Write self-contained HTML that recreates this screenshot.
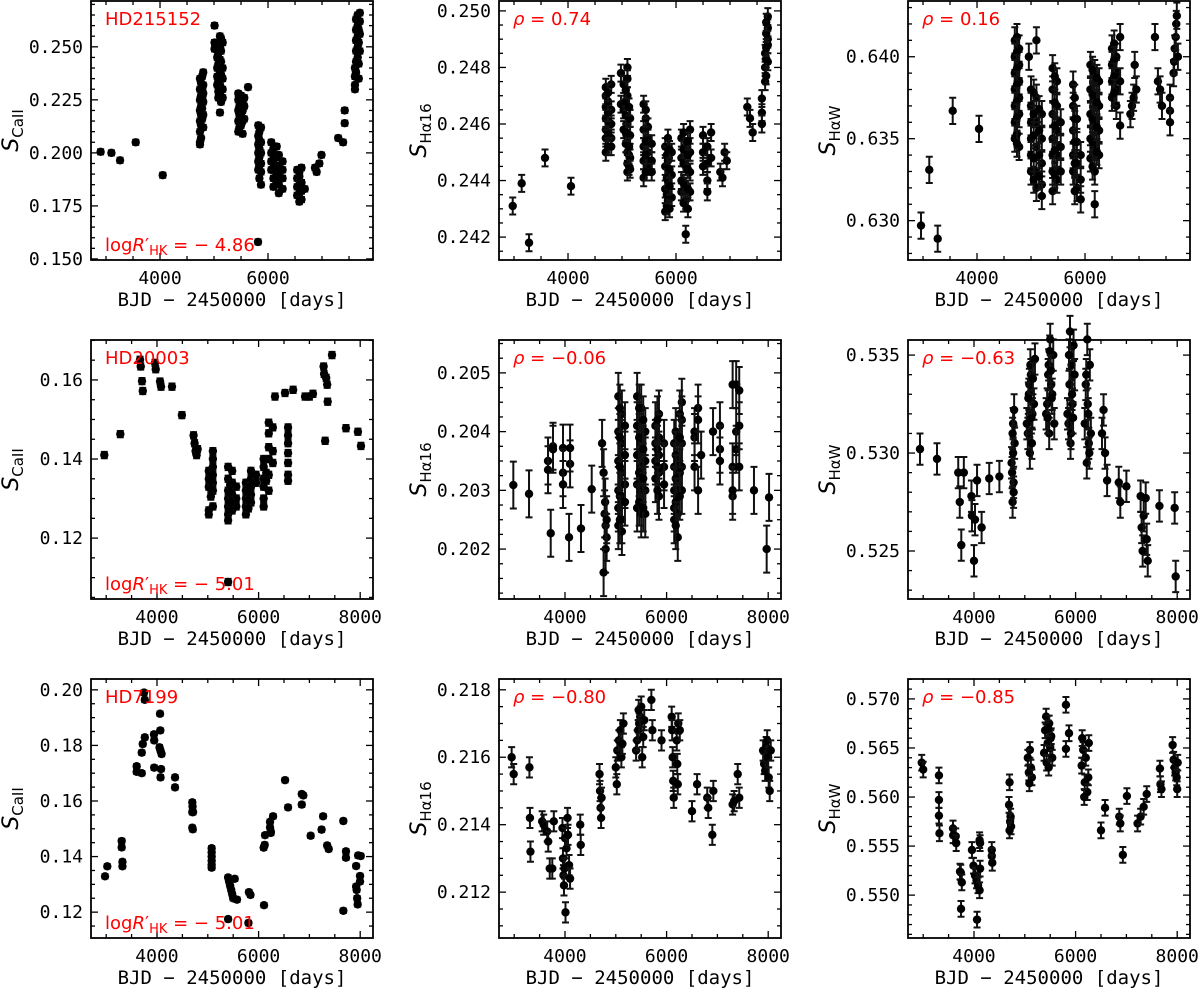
<!DOCTYPE html>
<html><head><meta charset="utf-8">
<style>
html,body{margin:0;padding:0;background:#fff;}
svg{display:block;}
.tk{font-family:"DejaVu Sans Mono","Liberation Mono",monospace;font-size:18px;fill:#000;}
.xl{font-family:"DejaVu Sans Mono","Liberation Mono",monospace;font-size:19px;fill:#000;}
.yl{font-family:"DejaVu Sans","Liberation Sans",sans-serif;font-size:22px;fill:#000;}
.ann{font-family:"DejaVu Sans","Liberation Sans",sans-serif;font-size:18px;fill:#ff0000;}
</style></head>
<body>
<svg id="fig" width="1200" height="991" viewBox="0 0 1200 991" xmlns="http://www.w3.org/2000/svg"></svg>
<script>
// ---------- data ----------
const p1Days=[2900,3100,3260,3550,4050, 4740,4740,4740,4740,4740,4740,4740,4740, 4800,4800,4800,4800,4800,4800, 5010,5010,5010, 5060,5060,5060,5060, 5110,5110,5110,5110,5110,5110,5110, 5160,5160,5160,5160,5160, 5450,5450,5450,5450,5450, 5500,5500,5500,5500, 5560,5560,5560, 5630, 5820,5820,5820,5820,5820,5820, 5870,5870,5870,5870,5870,5870, 6060,6060,6060,6060, 6160,6160,6160,6160,6160, 6270,6270,6270,6270, 6540,6540,6540,6540, 6620,6620,6620,6620, 6680, 6870,6900,6950,6990, 7300,7390,7420,7420, 7610,7610,7610,7610, 7660,7660,7660,7660,7660, 7700,7700,7700,7700, 5815,
 4760,4760,4760,4760,4760,4760, 4780,4780,4780,4780,4780, 5080,5080,5080,5080,5080, 5130,5130,5130,5130,5130, 5470,5470,5470,5470, 5530,5530,5530,5530, 5840,5840,5840,5840,5840,5840, 6100,6100,6100,6100,6100, 6200,6200,6200,6200,6200, 6580,6580,6580,6580,6580, 7630,7630,7630,7630,7630,7630, 7680,7680,7680,7680];
const p1Vals=[0.2005,0.200,0.1965,0.205,0.1895, 0.204,0.205,0.210,0.215,0.220,0.225,0.230,0.235, 0.212,0.218,0.224,0.228,0.232,0.238, 0.260,0.252,0.249, 0.245,0.240,0.236,0.232, 0.228,0.232,0.238,0.244,0.250,0.255,0.219, 0.226,0.230,0.235,0.240,0.252, 0.210,0.215,0.220,0.225,0.228, 0.213,0.218,0.223,0.227, 0.216,0.222,0.226, 0.231, 0.213,0.208,0.204,0.200,0.196,0.192, 0.212,0.205,0.200,0.195,0.191,0.185, 0.205,0.200,0.196,0.192, 0.203,0.198,0.194,0.190,0.186, 0.196,0.192,0.188,0.183, 0.192,0.188,0.184,0.180, 0.193,0.186,0.182,0.178, 0.183, 0.193,0.191,0.195,0.199, 0.207,0.205,0.220,0.214, 0.230,0.232,0.236,0.240, 0.245,0.250,0.255,0.260,0.265, 0.248,0.256,0.262,0.266, 0.158,
 0.207,0.213,0.218,0.222,0.227,0.233, 0.216,0.221,0.226,0.230,0.236, 0.226,0.229,0.234,0.242,0.247, 0.224,0.237,0.243,0.248,0.254, 0.212,0.218,0.222,0.226, 0.209,0.215,0.220,0.224, 0.194,0.198,0.202,0.206,0.210,0.188, 0.184,0.188,0.193,0.197,0.202, 0.181,0.185,0.189,0.193,0.199, 0.177,0.181,0.185,0.189,0.191, 0.238,0.243,0.248,0.253,0.258,0.263, 0.235,0.242,0.252,0.258];
const p1Err=0.0012;

const p2Days=[2976,3142,3278,3574,4055, 4700,4700,4700,4700,4700,4700,4700, 4800,4800,4800,4800,4800, 4980,4980, 5030,5030,5030, 5100,5100,5100,5100,5100,5100,5100,5100, 5150,5150,5150,5150, 5400,5400,5400,5400,5400, 5480,5480,5480,5480, 5550,5550,5550, 5800,5800,5800,5800, 5850,5850,5850,5850, 5920,5920,5920, 6100,6100,6100,6100, 6180,6180,6180,6180,6180, 6260,6260,6260,6260, 6500,6500,6500, 6580,6580,6580,6580, 6650,6650, 6820,6860,6900,6940, 7320,7370,7420, 7590,7590,7590, 7650,7650,7650, 7700,7700,7700,7700,7700,
 4740,4740,4740,4740,4740,4740, 5070,5070,5070,5070,5070, 5130,5130,5130,5130, 5440,5440,5440,5440,5440, 5830,5830,5830,5830, 5880,5880,5880,5880, 6140,6140,6140,6140,6140, 6220,6220,6220,6220,6220, 7670,7670,7670,7670,7670];
const p2Vals=[0.2431,0.2439,0.2418,0.2448,0.2438, 0.2458,0.2462,0.2466,0.2470,0.2455,0.2450,0.2473, 0.2474,0.2460,0.2455,0.2465,0.2452, 0.2478,0.2467, 0.2474,0.2465,0.2458, 0.2480,0.2476,0.2470,0.2460,0.2455,0.2450,0.2446,0.2443, 0.2462,0.2456,0.2448,0.2444, 0.2467,0.2458,0.2452,0.2447,0.2441, 0.2455,0.2450,0.2445,0.2459, 0.2453,0.2447,0.2443, 0.2429,0.2437,0.2445,0.2452, 0.2440,0.2447,0.2433,0.2455, 0.2442,0.2434,0.2450, 0.2448,0.2440,0.2436,0.2455, 0.2452,0.2445,0.2438,0.2433,0.2421, 0.2450,0.2443,0.2436,0.2458, 0.2456,0.2450,0.2445, 0.2452,0.2446,0.2440,0.2436, 0.2457,0.2448, 0.2443,0.2441,0.2450,0.2447, 0.2466,0.2462,0.2457, 0.2469,0.2464,0.2460, 0.2475,0.2480,0.2485, 0.2490,0.2494,0.2498,0.2488,0.2482,
 0.2452,0.2457,0.2461,0.2464,0.2468,0.2471, 0.2453,0.2457,0.2463,0.2468,0.2472, 0.2445,0.2449,0.2452,0.2466, 0.2443,0.2449,0.2454,0.2462,0.2465, 0.2431,0.2435,0.2441,0.2449, 0.2430,0.2438,0.2444,0.2451, 0.2432,0.2439,0.2446,0.2451,0.2457, 0.2430,0.2437,0.2444,0.2449,0.2454, 0.2477,0.2483,0.2487,0.2492,0.2496];
const p2Err=0.0003;

const p3Days=[2963,3116,3272,3550,4037, 4700,4700,4700,4700,4700,4700,4700, 4780,4780,4780,4780,4780,4780, 4960, 5000,5000,5000,5000,5000,5000, 5100,5100,5100,5100,5100,5100, 5200,5200,5200,5200,5200, 5400,5400,5400,5400,5400,5400,5400, 5480,5480,5480,5480,5480, 5550,5550,5550, 5780,5780,5780,5780,5780, 5850,5850,5850,5850, 5920,5920,5920, 6100,6100,6100,6100,6100, 6180,6180,6180,6180,6180,6180, 6260,6260,6260,6260, 6500,6500,6500,6500, 6580,6580,6580,6580, 6650,6650,6650, 6840,6870,6900,6920,6950, 7295, 7350,7390,7425, 7574,7574,7574, 7640,7650,7660,7680,7690,7700,7720,
 4740,4740,4740,4740,4740,4740,4740,4740, 5050,5050,5050,5050,5050, 5150,5150,5150,5150, 5440,5440,5440,5440,5440, 5810,5810,5810,5810,5810, 6140,6140,6140,6140,6140, 6220,6220,6220,6220, 6540,6540,6540,6540];
const p3Vals=[0.6297,0.6331,0.6289,0.6367,0.6356, 0.6410,0.6400,0.6390,0.6380,0.6370,0.6360,0.6350, 0.6405,0.6395,0.6385,0.6375,0.6365,0.6345, 0.6400, 0.6380,0.6370,0.6360,0.6350,0.6340,0.6330, 0.6375,0.6360,0.6345,0.6330,0.6320,0.6410, 0.6365,0.6350,0.6335,0.6322,0.6315, 0.6393,0.6380,0.6365,0.6350,0.6340,0.6330,0.6318, 0.6385,0.6370,0.6355,0.6340,0.6325, 0.6360,0.6345,0.6330, 0.6383,0.6370,0.6355,0.6340,0.6330, 0.6362,0.6348,0.6335,0.6320, 0.6340,0.6325,0.6313, 0.6395,0.6380,0.6365,0.6350,0.6338, 0.6390,0.6375,0.6360,0.6345,0.6330,0.6310, 0.6385,0.6370,0.6355,0.6340, 0.6405,0.6395,0.6385,0.6375, 0.6400,0.6390,0.6380,0.6370, 0.6412,0.6385,0.6358, 0.6365,0.6370,0.6375,0.6395,0.6380, 0.6412, 0.6385,0.6380,0.6370, 0.6375,0.6367,0.6360, 0.6390,0.6397,0.6405,0.6412,0.6420,0.6425,0.6400,
 0.6412,0.6403,0.6393,0.6383,0.6373,0.6363,0.6353,0.6347, 0.6378,0.6365,0.6352,0.6338,0.6325, 0.6368,0.6355,0.6340,0.6327, 0.6388,0.6372,0.6358,0.6343,0.6328, 0.6375,0.6362,0.6348,0.6335,0.6318, 0.6392,0.6377,0.6362,0.6348,0.6333, 0.6387,0.6372,0.6357,0.6342, 0.6408,0.6398,0.6388,0.6378];
const p3Err=0.0008;

const p4Days=[2963,3278,3666,3680,3705,3720,3961,3975,4060,4080,4295,4490, 4720,4740,4760,4780,4800, 5020,5020,5020,5020,5020, 5100,5100,5100,5100,5100,5100,5100, 5400,5400,5400,5400,5400,5400,5400, 5480,5480,5480,5480,5480, 5560,5560,5560, 5400, 5750,5750,5750,5750,5750, 5850,5850,5850,5850,5850, 5950,5950, 6100,6100,6100,6100,6100,6100, 6200,6200,6200,6200,6200,6200, 6280,6280,6280, 6323, 6580,6580,6580,6580,6580,6580,6580, 6520,6680, 6915,7000,7070, 7280,7290,7330,7350,7360,7445,7310, 7720,7955,8015,
 5060,5060,5060, 5440,5440,5440, 5800,5800,5800, 6150,6150];
const p4Vals=[0.1410,0.1463,0.1651,0.1634,0.1597,0.1572,0.1643,0.1627,0.1596,0.1583,0.1583,0.1511, 0.1460,0.1440,0.1420,0.1410,0.1425, 0.1270,0.1260,0.1330,0.1350,0.1370, 0.1400,0.1380,0.1360,0.1340,0.1320,0.1280,0.1420, 0.1380,0.1350,0.1320,0.1300,0.1280,0.1260,0.1245, 0.1370,0.1340,0.1310,0.1290,0.1270, 0.1330,0.1300,0.1280, 0.1089, 0.1260,0.1280,0.1300,0.1320,0.1340, 0.1290,0.1310,0.1330,0.1350,0.1370, 0.1340,0.1360, 0.1280,0.1300,0.1330,0.1350,0.1380,0.1400, 0.1320,0.1360,0.1400,0.1430,0.1465,0.1492, 0.1480,0.1420,0.1390, 0.1558, 0.1480,0.1460,0.1440,0.1415,0.1390,0.1360,0.1345, 0.1567,0.1575, 0.1558,0.1558,0.1565, 0.1634,0.1615,0.1605,0.1588,0.1545,0.1663,0.1446, 0.1478,0.1469,0.1433,
 0.1345,0.1325,0.1305, 0.1335,0.1315,0.1290, 0.1275,0.1295,0.1315, 0.1345,0.1365];
const p4Err=0.0008;

const p5Days=[2983,3292,3719,3666,3666,3764,3764,3961,3961,3961,4080,4100,4100,4315,4526, 4730,4760,4780,4800,4820,4800,4760,4790,4820, 5050,5050,5050,5050,5050,5050, 5120,5120,5120,5120,5120,5120, 5180,5180,5180,5180, 5420,5420,5420,5420,5420, 5500,5500,5500,5500,5500, 5580,5580,5580,5580, 5780,5780,5780,5780, 5850,5850,5850,5850,5850, 5950,5950,5950, 6150,6150,6150,6150,6150, 6220,6220,6220,6220, 6300,6300,6300,6300,6300, 6550,6550,6550, 6620,6620,6620, 6680, 6914, 7050,7050,7050, 7300,7300,7300,7300, 7370,7370,7370, 7430,7430,7430, 7720,7970,8017,
 5080,5080,5080,5080,5080, 5460,5460,5460,5460, 5540,5540,5540,5540, 5820,5820,5820,5820, 6180,6180,6180,6180,6180, 6260,6260,6260,6260];
const p5Vals=[0.20309,0.20294,0.20227,0.2035,0.20335,0.20375,0.2037,0.20372,0.2033,0.2031,0.2022,0.20345,0.20372,0.20235,0.20302, 0.2038,0.2033,0.2026,0.2024,0.2022,0.2020,0.2016,0.2028,0.2025, 0.2046,0.2040,0.2035,0.2030,0.2027,0.2024, 0.2043,0.2038,0.2033,0.2029,0.2025,0.2023, 0.2041,0.2036,0.2031,0.2028, 0.2046,0.2041,0.2036,0.2031,0.2027, 0.2044,0.2038,0.2034,0.2030,0.2026, 0.2040,0.2035,0.2030,0.2026, 0.2041,0.2038,0.2035,0.2032, 0.2043,0.2039,0.2036,0.2033,0.2029, 0.2038,0.2034,0.2031, 0.2038,0.2034,0.2030,0.2027,0.2025, 0.2035,0.2030,0.2026,0.2022, 0.2045,0.2042,0.2038,0.2034,0.2030, 0.2039,0.2034,0.2040, 0.2044,0.2042,0.2030, 0.2036, 0.2040, 0.2041,0.2037,0.2035, 0.2048,0.2034,0.2029,0.2030, 0.2048,0.2040,0.2037, 0.2047,0.2041,0.2034, 0.2030,0.2020,0.20288,
 0.2044,0.2039,0.2034,0.2029,0.2025, 0.2044,0.2039,0.2033,0.2028, 0.2042,0.2037,0.2032,0.2027, 0.2042,0.2037,0.2034,0.2030, 0.2040,0.2036,0.2032,0.2028,0.2024, 0.2043,0.2039,0.2033,0.2029];
const p5Err=0.0004;

const p6Days=[2937,3272,3690,3720,3750,3800,3950,3960,4000,4020,4060,4150,4300,4500, 4760,4780,4740,4800,4770,4790,4750, 5100,5060,5150,5080,5120,5200,5040,5180,5090,5140, 5480,5420,5540,5460,5560,5500,5440,5520,5470,5580, 5900,5860,5940,5880,5920,5960,5890,5840,5980, 6220,6260,6180,6240,6200,6280,6230,6300, 6520,6550,6580,6620, 6850,6880,7000, 7280,7300,7320,7340, 7380,7400,7420, 7650,7950,7970,
 4770,4760,4780, 5110,5130,5070,5160, 5490,5450,5530,5510, 5910,5870,5930,5950, 6250,6210,6270];
const p6Vals=[0.5302,0.5297,0.5290,0.5275,0.5253,0.5290,0.5278,0.5268,0.5245,0.5266,0.5286,0.5262,0.5287,0.5288, 0.5275,0.5285,0.5295,0.5305,0.5315,0.5322,0.5290, 0.5300,0.5310,0.5320,0.5330,0.5340,0.5348,0.5315,0.5325,0.5335,0.5305, 0.5310,0.5320,0.5330,0.5340,0.5350,0.5358,0.5325,0.5335,0.5345,0.5315, 0.5305,0.5315,0.5325,0.5335,0.5345,0.5355,0.5362,0.5320,0.5340, 0.5295,0.5305,0.5315,0.5325,0.5335,0.5345,0.5358,0.5310, 0.5310,0.5322,0.5300,0.5286, 0.5285,0.5275,0.5283, 0.5278,0.5262,0.5250,0.5268, 0.5277,0.5256,0.5245, 0.5273,0.5272,0.5237,
 0.5300,0.5310,0.5280, 0.5345,0.5318,0.5328,0.5338, 0.5352,0.5318,0.5328,0.5342, 0.5310,0.5350,0.5330,0.5318, 0.5320,0.5340,0.5300];
const p6Err=0.0008;

const p7Days=[2977,3022,3305,3305,3320,3320,3600,3600,3700,3700,3720,3745,3760,3760,3941,3945,3945,4060,4065,4050,4070,4070,4080,4090,4355,4355,4695,4700,4695,4710,4695,4705, 5076,5076,5076,5076,5076,5076, 5400,5420,5440,5460,5480,5500,5530,5400, 5575,5810,5840,5800, 6107,6100,6120,6127,6225,6225,6240,6240,6285, 6521,6580,6850,6850,6880,7025,7240,7270,7350,7380,7668,7668,7720,7720, 7920,7920,7930,7940,7950,7960,7997,7997,8010];
const p7Vals=[0.1329,0.1365,0.1456,0.1433,0.1381,0.1365,0.1725,0.1705,0.1774,0.1700,0.1805,0.1990,0.1964,0.1829,0.1840,0.1818,0.1720,0.1914,0.1854,0.1793,0.1781,0.1685,0.1715,0.1769,0.1685,0.1649,0.1595,0.1580,0.1560,0.1560,0.1504,0.1498, 0.1430,0.1415,0.1400,0.1385,0.1370,0.1360, 0.1325,0.1310,0.1295,0.1280,0.1265,0.1250,0.1320,0.1175, 0.1245,0.1272,0.1262,0.1161, 0.1225,0.1432,0.1442,0.1477,0.1525,0.1505,0.1490,0.1485,0.1545, 0.1675,0.1577,0.1587,0.1625,0.1620,0.1475,0.1497,0.1545,0.1440,0.1427,0.1528,0.1205,0.1419,0.1396, 0.1366,0.1292,0.1280,0.1250,0.1228,0.1404,0.1330,0.1310,0.1402];
const p7Err=0.0008;

const p8Days=[2950,2990,3300,3310,3320, 3550,3580,3650,3670,3700,3750,3780, 3950,3960,3970,3980,3990,4000,4010,4030,4050,4060,4080,4100,4300,4310, 4680,4690,4700,4710,4720, 5000,5030,5060,5090,5110,5130,5150,5020, 5400,5420,5440,5460,5480,5500,5520,5540,5560,5450, 5700,5720,5900, 6100,6110,6120,6130,6140, 6200,6210,6220,6230,6260, 6500,6600,6800,6820,6900,6920,7300,7330,7400,7430, 7900,7920,7940,7960,7980,8000,8010,8030,8050];
const p8Vals=[0.2160,0.2155,0.2157,0.2142,0.2132, 0.2141,0.2140,0.2138,0.2135,0.2127,0.2127,0.2141, 0.2139,0.2130,0.2125,0.2122,0.2127,0.2136,0.2114,0.2133,0.2142,0.2137,0.2128,0.2124,0.2140,0.2134, 0.2155,0.2150,0.2145,0.2142,0.2148, 0.2157,0.2162,0.2165,0.2168,0.2160,0.2164,0.2170,0.2152, 0.2162,0.2165,0.2168,0.2170,0.2172,0.2175,0.2160,0.2166,0.2171,0.2174, 0.2177,0.2168,0.2165, 0.2172,0.2168,0.2160,0.2153,0.2148, 0.2165,0.2158,0.2152,0.2170,0.2168, 0.2144,0.2152,0.2148,0.2145,0.2137,0.2150,0.2146,0.2147,0.2155,0.2148, 0.2162,0.2158,0.2156,0.2163,0.2165,0.2160,0.2154,0.2150,0.2162];
const p8Err=0.0003;

const p9Days=[2971,3000,3310,3310,3310,3320,3587,3590,3640,3650,3725,3740,3760,3745, 3960,3990,4020,4050,4080,4110,4120,4060,4120,4110, 4350,4350,4360, 4700,4690,4720,4710,4730,4700, 5100,5060,5120,5080,5140,5090, 5420,5480,5400,5520,5450,5500,5380,5540,5430,5470,5510,5460, 5810,5810,5870, 6150,6200,6120,6250,6180,6230,6170,6130,6260, 6500,6580,6860,6880,6930,7010, 7220,7280,7340,7400, 7660,7670,7690, 7910,7930,7950,7970,7990,8000,8010];
const p9Vals=[0.5635,0.5628,0.5622,0.5597,0.5581,0.5563,0.5568,0.5561,0.5560,0.5553,0.5524,0.5523,0.5513,0.5486, 0.5546,0.5530,0.5520,0.5515,0.5510,0.5505,0.5527,0.5475,0.5553,0.5556, 0.5546,0.5540,0.5533, 0.5615,0.5592,0.5580,0.5575,0.5570,0.5566, 0.5648,0.5640,0.5630,0.5625,0.5620,0.5614, 0.5682,0.5675,0.5668,0.5662,0.5655,0.5650,0.5645,0.5640,0.5635,0.5630,0.5660,0.5670, 0.5694,0.5649,0.5665, 0.5648,0.5640,0.5632,0.5620,0.5615,0.5605,0.5600,0.5660,0.5655, 0.5566,0.5589,0.5580,0.5573,0.5541,0.5601, 0.5573,0.5580,0.5590,0.5603, 0.5629,0.5613,0.5608, 0.5653,0.5638,0.5630,0.5625,0.5620,0.5608,0.5635];
const p9Err=0.0008;

const xTicksRow1=[4000,6000];
const xTicksRow23=[4000,6000,8000];
const yTicks1=["0.150","0.175","0.200","0.225","0.250"];
const yTicks2=["0.242","0.244","0.246","0.248","0.250"];
const yTicks3=["0.630","0.635","0.640"];
const yTicks4=["0.12","0.14","0.16"];
const yTicks5=["0.202","0.203","0.204","0.205"];
const yTicks6=["0.525","0.530","0.535"];
const yTicks7=["0.12","0.14","0.16","0.18","0.20"];
const yTicks8=["0.212","0.214","0.216","0.218"];
const yTicks9=["0.550","0.555","0.560","0.565","0.570"];

// ---------- drawing ----------
const NS="http://www.w3.org/2000/svg";
const svg=document.getElementById('fig');
function mk(tag,attrs,parent){const e=document.createElementNS(NS,tag);for(const k in attrs)e.setAttribute(k,attrs[k]);(parent||svg).appendChild(e);return e;}

const W=282,H=259;
const panels=[
 {L:91,T:1,xd:[2722,7944],yd:[0.1495,0.2716],days:p1Days,vals:p1Vals,err:p1Err,xt:xTicksRow1,yt:yTicks1,ym:0.005,lab:"CaII",name:"hd215152-scaii"},
 {L:499,T:1,xd:[2722,7944],yd:[0.24119,0.25035],days:p2Days,vals:p2Vals,err:p2Err,xt:xTicksRow1,yt:yTicks2,ym:0.0005,lab:"Hα16",name:"hd215152-sha16"},
 {L:908,T:1,xd:[2722,7944],yd:[0.6276,0.6434],days:p3Days,vals:p3Vals,err:p3Err,xt:xTicksRow1,yt:yTicks3,ym:0.001,lab:"HαW",name:"hd215152-shaw"},
 {L:91,T:340,xd:[2701,8252],yd:[0.1046,0.1701],days:p4Days,vals:p4Vals,err:p4Err,xt:xTicksRow23,yt:yTicks4,ym:0.005,lab:"CaII",name:"hd20003-scaii"},
 {L:499,T:340,xd:[2701,8252],yd:[0.20115,0.20556],days:p5Days,vals:p5Vals,err:p5Err,xt:xTicksRow23,yt:yTicks5,ym:0.00025,lab:"Hα16",name:"hd20003-sha16"},
 {L:908,T:340,xd:[2701,8252],yd:[0.52255,0.53577],days:p6Days,vals:p6Vals,err:p6Err,xt:xTicksRow23,yt:yTicks6,ym:0.001,lab:"HαW",name:"hd20003-shaw"},
 {L:91,T:679,xd:[2701,8252],yd:[0.1107,0.2039],days:p7Days,vals:p7Vals,err:p7Err,xt:xTicksRow23,yt:yTicks7,ym:0.005,lab:"CaII",name:"hd7199-scaii"},
 {L:499,T:679,xd:[2701,8252],yd:[0.21064,0.21832],days:p8Days,vals:p8Vals,err:p8Err,xt:xTicksRow23,yt:yTicks8,ym:0.0005,lab:"Hα16",name:"hd7199-sha16"},
 {L:908,T:679,xd:[2701,8252],yd:[0.54563,0.57203],days:p9Days,vals:p9Vals,err:p9Err,xt:xTicksRow23,yt:yTicks9,ym:0.001,lab:"HαW",name:"hd7199-shaw"}
];
const annots=[
 ["HD215152","logR","−4.86"],["ρ","0.74"],["ρ","0.16"],
 ["HD20003","logR","−5.01"],["ρ","−0.06"],["ρ","−0.63"],
 ["HD7199","logR","−5.01"],["ρ","−0.80"],["ρ","−0.85"]
];

panels.forEach((p,i)=>{
  const g=mk('g',{});
  
  
  const sx=d=>p.L+(d-p.xd[0])/(p.xd[1]-p.xd[0])*W;
  const sy=v=>p.T+H-(v-p.yd[0])/(p.yd[1]-p.yd[0])*H;
  const B=p.T+H,R=p.L+W;
  const tg=mk('g',{stroke:'#000','stroke-width':1.3},g);
  
  
  for(let d=Math.ceil(p.xd[0]/500)*500; d<=p.xd[1]; d+=500){
    const x=sx(d), major=d%2000===0, len=major?7:4;
    mk('line',{x1:x,y1:B,x2:x,y2:B-len},tg);
    mk('line',{x1:x,y1:p.T,x2:x,y2:p.T+len},tg);
  }
  const majY=p.yt.map(Number);
  const step=majY[1]-majY[0];
  const nMin=Math.round(step/p.ym);
  for(let k=Math.floor((p.yd[0]-majY[0])/p.ym); ; k++){
    const v=majY[0]+k*p.ym; if(v>p.yd[1]) break; if(v<p.yd[0]) continue;
    const major=((k%nMin)+nMin)%nMin===0, len=major?7:4, y=sy(v);
    mk('line',{x1:p.L,y1:y,x2:p.L+len,y2:y},tg);
    mk('line',{x1:R,y1:y,x2:R-len,y2:y},tg);
  }
  p.xt.forEach(d=>{
    if(d<p.xd[0]||d>p.xd[1])return;
    const t=mk('text',{x:sx(d),y:B+24,'text-anchor':'middle',class:'tk'},g);
    t.textContent=d;
    
    
  });
  p.yt.forEach(s=>{
    const t=mk('text',{x:p.L-8,y:sy(Number(s))+6,'text-anchor':'end',class:'tk'},g);
    t.textContent=s;
    
    
  });
  const xl=mk('text',{x:p.L+W/2,y:B+46,'text-anchor':'middle',class:'xl'},g);
  xl.textContent="BJD − 2450000 [days]";
  
  
  const yx=p.L-73, yy=p.T+H/2;
  const yl=mk('text',{x:0,y:0,'text-anchor':'middle',class:'yl',transform:`translate(${yx},${yy}) rotate(-90)`},g);
  
  
  const s1=mk('tspan',{'font-style':'italic'},yl); s1.textContent="S";
  const s2=mk('tspan',{'font-size':'15px',dy:'5'},yl); s2.textContent=p.lab;
  const dg=mk('g',{},g);
  
  
  p.days.forEach((d,j)=>{
    const x=sx(d), y=sy(p.vals[j]);
    const e=Array.isArray(p.err)?p.err[j]:p.err;
    const y1=sy(p.vals[j]+e), y2=sy(p.vals[j]-e);
    const eb=mk('path',{d:`M${x},${y1}V${y2}M${x-3.5},${y1}H${x+3.5}M${x-3.5},${y2}H${x+3.5}`,stroke:'#111','stroke-width':2,fill:'none'},dg);
    
    
    const c=mk('circle',{cx:x,cy:y,r:4.2,fill:'#000'},dg);
    
    
  });
  const fr=mk('rect',{x:p.L,y:p.T,width:W,height:H,fill:'none',stroke:'#000','stroke-width':1.8},g);
  
  
  const a=annots[i];
  if(a[0]==="ρ"){
    const t=mk('text',{x:p.L+14,y:p.T+24,class:'ann'},g);
    
    
    const r=mk('tspan',{'font-style':'italic'},t); r.textContent="ρ";
    const r2=mk('tspan',{},t); r2.textContent=" = "+a[1];
  } else {
    const t=mk('text',{x:p.L+14,y:p.T+24,class:'ann'},g);
    t.textContent=a[0];
    
    
    const t2=mk('text',{x:p.L+14,y:p.T+H-9,class:'ann'},g);
    
    
    const u1=mk('tspan',{},t2); u1.textContent="log";
    const u2=mk('tspan',{'font-style':'italic'},t2); u2.textContent="R";
    const u3=mk('tspan',{},t2); u3.textContent="′";
    const u4=mk('tspan',{'font-size':'13px',dy:'4'},t2); u4.textContent="HK";
    const u5=mk('tspan',{dy:'-4'},t2); u5.textContent=" = − "+a[2].replace("−","");
  }
});
</script>
</body></html>
